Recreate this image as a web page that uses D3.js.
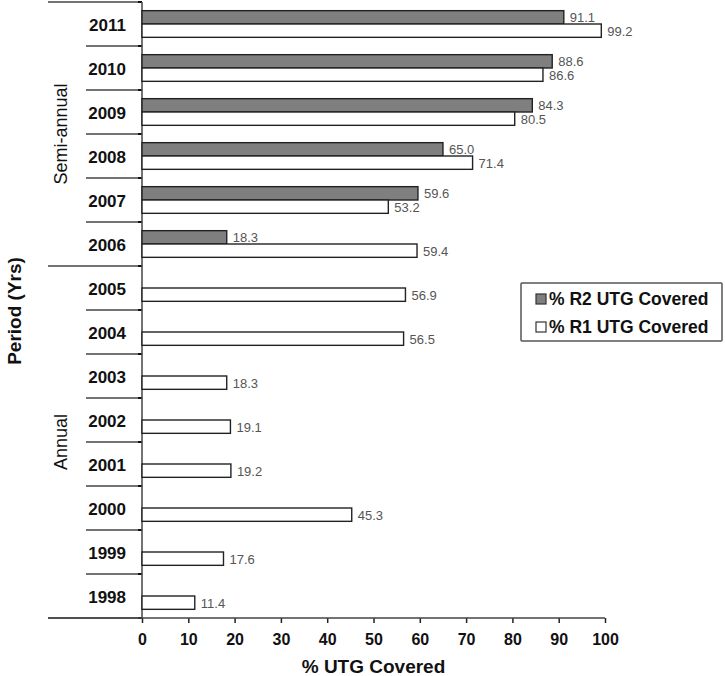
<!DOCTYPE html>
<html><head><meta charset="utf-8">
<script src="https://cdn.jsdelivr.net/npm/d3@7"></script>
<style>body{margin:0;background:#fff}svg{display:block}text{font-family:"Liberation Sans",Arial,sans-serif}</style>
</head><body><svg id="c" width="725" height="676"></svg>
<script>
const years = ["2011","2010","2009","2008","2007","2006","2005","2004","2003","2002","2001","2000","1999","1998"];
const r2Values = [91.1,88.6,84.3,65.0,59.6,18.3,null,null,null,null,null,null,null,null];
const r1Values = [99.2,86.6,80.5,71.4,53.2,59.4,56.9,56.5,18.3,19.1,19.2,45.3,17.6,11.4];
const seriesKeys = ["R2","R1"];
const seriesNames = ["% R2 UTG Covered","% R1 UTG Covered"];
const seriesFills = ["#7f7f7f","#ffffff"];
const xTicks = [0,10,20,30,40,50,60,70,80,90,100];
const groupNames = ["Semi-annual","Annual"];
const groupFirst = ["2011","2005"];
const groupLast = ["2006","1998"];

const svg = d3.select("#c");
const x = d3.scaleLinear().domain([0,100]).range([142,605]);
const y = d3.scaleBand().domain(years).range([2,618]).padding(0);
const ys = d3.scaleBand().domain(seriesKeys).range([0,y.bandwidth()]).paddingInner(0).paddingOuter(0.65);

const lineCol = "#444";

// separators between categories
const bounds = years.map(d => y(d)).concat([y.range()[1]]);
const groupBounds = new Set([y(groupFirst[0]), y(groupFirst[1]), y.range()[1]]);
svg.append("g").selectAll("line").data(bounds).join("line")
  .attr("x1", d => groupBounds.has(d) ? 48 : 86).attr("x2", x(0))
  .attr("y1", d => d).attr("y2", d => d)
  .attr("stroke", lineCol).attr("stroke-width", 1.3);
// small ticks on y axis
svg.append("g").selectAll("line").data(bounds).join("line")
  .attr("x1", x(0)-4).attr("x2", x(0)).attr("y1", d=>d).attr("y2", d=>d)
  .attr("stroke", "#111").attr("stroke-width", 2);

// bottom axis
const xAxis = svg.append("g").attr("transform", `translate(0,${y.range()[1]})`)
  .call(d3.axisBottom(x).tickValues(xTicks).tickSize(5).tickPadding(11).tickFormat(d3.format("d")));
xAxis.select(".domain").remove();
xAxis.selectAll(".tick line").attr("stroke", "#222").attr("stroke-width", 1.5);
xAxis.selectAll(".tick text").attr("font-size", 16).attr("font-weight", "bold").attr("fill", "#111")
  .attr("font-family", '"Liberation Sans",Arial,sans-serif');
svg.append("line").attr("x1", 48).attr("x2", x(100)).attr("y1", y.range()[1]).attr("y2", y.range()[1])
  .attr("stroke", lineCol).attr("stroke-width", 1.3);

// left axis (labels)
const yAxis = svg.append("g").attr("transform", `translate(${x(0)},0)`)
  .call(d3.axisLeft(y).tickSize(0).tickPadding(16));
yAxis.select(".domain").remove();
yAxis.selectAll(".tick text").attr("font-size", 17).attr("font-weight", "bold").attr("fill", "#111")
  .attr("dy", "0.4em")
  .attr("font-family", '"Liberation Sans",Arial,sans-serif');
svg.append("line").attr("x1", x(0)).attr("x2", x(0)).attr("y1", y.range()[0]).attr("y2", y.range()[1])
  .attr("stroke", lineCol).attr("stroke-width", 1.5);

// bars
const rows = [];
years.forEach((yr, i) => {
  [r2Values[i], r1Values[i]].forEach((v, k) => {
    if (v != null) rows.push({year: yr, key: seriesKeys[k], value: v, fill: seriesFills[k]});
  });
});
const bars = svg.append("g");
bars.selectAll("rect").data(rows).join("rect")
  .attr("x", x(0)).attr("y", d => y(d.year) + ys(d.key))
  .attr("width", d => x(d.value) - x(0)).attr("height", ys.bandwidth())
  .attr("fill", d => d.fill).attr("stroke", "#222").attr("stroke-width", 1.4);
bars.selectAll("text").data(rows).join("text")
  .attr("x", d => x(d.value) + 6).attr("y", d => y(d.year) + ys(d.key) + ys.bandwidth()/2 + 5)
  .attr("font-size", 13).attr("fill", "#555")
  .text(d => d3.format(".1f")(d.value));

// group labels
groupNames.forEach((g, i) => {
  const cy = (y(groupFirst[i]) + y(groupLast[i]) + y.bandwidth()) / 2;
  svg.append("text").attr("transform", `translate(67,${cy}) rotate(-90)`)
    .attr("text-anchor", "middle").attr("font-size", 18).attr("fill", "#111").text(g);
});

// axis titles
svg.append("text").attr("transform", `translate(21,311) rotate(-90)`)
  .attr("text-anchor", "middle").attr("font-size", 19).attr("font-weight", "bold").attr("fill", "#111").text("Period (Yrs)");
svg.append("text").attr("x", (x(0)+x(100))/2).attr("y", 673)
  .attr("text-anchor", "middle").attr("font-size", 19).attr("font-weight", "bold").attr("fill", "#111").text("% UTG Covered");

// legend
const lg = svg.append("g");
lg.append("rect").attr("x", 521).attr("y", 283).attr("width", 201).attr("height", 58)
  .attr("fill", "#fff").attr("stroke", "#555").attr("stroke-width", 1.5).attr("rx", 1);
seriesNames.forEach((n, i) => {
  const cy = 299 + i*28;
  lg.append("rect").attr("x", 536).attr("y", cy-5).attr("width", 10).attr("height", 10)
    .attr("fill", seriesFills[i]).attr("stroke", "#333").attr("stroke-width", 1.2);
  lg.append("text").attr("x", 549).attr("y", cy+6).attr("font-size", 17.5).attr("font-weight", "bold")
    .attr("fill", "#111").text(n);
});
</script></body></html>
